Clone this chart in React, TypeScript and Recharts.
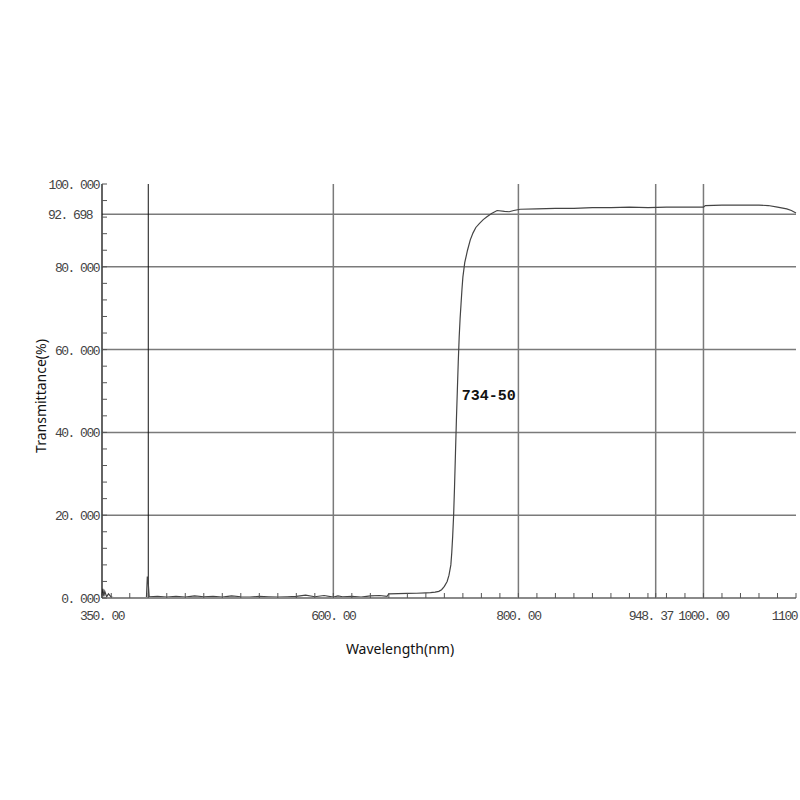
import React from "react";
import { LineChart, Line, XAxis, YAxis, ReferenceLine, ReferenceDot } from "recharts";

// measured curve (wavelength nm -> transmittance %)
const wavelength = [
  350, 351, 352, 353, 355, 357, 360, 365, 370, 380, 390, 398, 399, 400, 401, 410, 420, 430, 440, 450,
  460, 470, 480, 490, 500, 510, 520, 530, 540, 550, 560, 570, 580, 590, 600, 605, 610, 620, 630, 640,
  650, 658, 660, 670, 680, 690, 700, 705, 710, 714, 717, 720, 723, 725, 727, 728, 729, 730, 731, 732,
  733, 734, 735, 736, 737, 738, 739, 740, 742, 745, 748, 751, 754, 758, 762, 766, 771, 777, 785, 790,
  795, 802, 820, 840, 860, 880, 900, 920, 940, 960, 980, 1000, 1002, 1020, 1040, 1060,
  1070, 1080, 1090, 1095, 1100,
];
const transmittance = [
  0.6, 2.2, 0.4, 1.6, 0.3, 1.0, 0.2, 0, 0, 0, 0, 0, 5.2, 3.5, 0.3, 0.4, 0.2, 0.4, 0.2, 0.5,
  0.3, 0.4, 0.2, 0.5, 0.3, 0.2, 0.4, 0.3, 0.2, 0.3, 0.4, 0.7, 0.3, 0.6, 0.2, 0.5, 0.3, 0.4, 0.2, 0.5,
  0.6, 0.4, 1.0, 1.05, 1.1, 1.15, 1.25, 1.3, 1.4, 1.6, 2.0, 2.8, 4.0, 5.5, 8, 11, 15, 20, 27, 35,
  43, 50, 57, 63, 67.5, 71, 74.5, 77.5, 81, 84, 86.5, 88.2, 89.5, 90.5, 91.4, 92.1, 92.9, 93.6, 93.4, 93.3,
  93.6, 93.9, 94.0, 94.1, 94.1, 94.3, 94.3, 94.4, 94.3, 94.4, 94.4, 94.4, 94.8, 94.9, 94.9, 94.9,
  94.8, 94.4, 94.0, 93.6, 93.0,
];

const xLabelTicks = [350, 600, 800, 948.37, 1000, 1100];
const xLabelText = ["350. 00", "600. 00", "800. 00", "948. 37", "1000. 00", "1100"];
const xMinorTicks = [
  360, 380, 400, 420, 440, 460, 480, 500, 520, 540, 560, 580, 600, 620, 640, 660, 680, 700, 720,
  740, 760, 780, 800, 820, 840, 860, 880, 900, 920, 940, 960, 980, 1000, 1020, 1040, 1060, 1080,
];
const yLabelTicks = [0, 20, 40, 60, 80, 100];
const yLabelText = ["0. 000", "20. 000", "40. 000", "60. 000", "80. 000", "100. 000"];
const yMinorTicks = [4, 8, 12, 16, 24, 28, 32, 36, 44, 48, 52, 56, 64, 68, 72, 76, 84, 88, 92, 96];

const xGrid = [600, 800, 948.37, 1000];
const xDarkGrid = 400;
const yGrid = [20, 40, 60, 80];
const markLevel = 92.698;
const markText = "92. 698";
const curveName = "734-50";

const data = wavelength.map((w, i) => ({ w, t: transmittance[i] }));

const bottomTicks = Array.from(new Set([...xLabelTicks, ...xMinorTicks])).sort((a, b) => a - b);
const leftTicks = Array.from(new Set([...yLabelTicks, ...yMinorTicks])).sort((a, b) => a - b);

const tickFont = "'Liberation Mono', monospace";
const tickColor = "#444";
const tickStyle = { fontSize: 13, letterSpacing: -1.5, fontFamily: tickFont, fill: tickColor };

function BottomTick(props: any) {
  const { x, y, payload } = props;
  const i = xLabelTicks.indexOf(payload.value);
  let dx = 0;
  let anchor = "middle";
  if (payload.value === 948.37) dx = -5;
  if (payload.value === 1100) {
    anchor = "end";
    dx = 1;
  }
  return (
    <g>
      <line x1={x} x2={x} y1={y} y2={y - 5} stroke="#555" />
      {i >= 0 && (
        <text x={x + dx} y={y + 22} textAnchor={anchor} {...tickStyle}>
          {xLabelText[i]}
        </text>
      )}
    </g>
  );
}

function TopTick(props: any) {
  const { x, y } = props;
  return <line x1={x} x2={x} y1={y} y2={y + 5} stroke="#555" />;
}

function LeftTick(props: any) {
  const { x, y, payload } = props;
  const i = yLabelTicks.indexOf(payload.value);
  return (
    <g>
      <line x1={x} x2={x + 5} y1={y} y2={y} stroke="#555" />
      {i >= 0 && (
        <text x={x - 3} y={y + 5} textAnchor="end" {...tickStyle}>
          {yLabelText[i]}
        </text>
      )}
    </g>
  );
}

function RightTick(props: any) {
  const { x, y } = props;
  return <line x1={x} x2={x - 5} y1={y} y2={y} stroke="#555" />;
}

export default function App() {
  return (
    <div style={{ position: "absolute", left: 0, top: 0, width: 800, height: 800, background: "#fff" }}>
      <LineChart width={800} height={800} data={data} margin={{ top: 184, right: 4, bottom: 172, left: 42 }}>
        <XAxis
          dataKey="w"
          type="number"
          domain={[350, 1100]}
          ticks={bottomTicks}
          interval={0}
          tickSize={0}
          tickMargin={0}
          height={30}
          tick={BottomTick}
          axisLine={{ stroke: "#8a8a8a", strokeWidth: 2 }}
          label={{
            content: (p: any) => {
              const vb = p.viewBox;
              return (
                <text x={vb.x + vb.width / 2 - 49} y={vb.y + 56} textAnchor="middle" fontSize={14} fontFamily="'Noto Sans', sans-serif" fill="#111">
                  Wavelength(nm)
                </text>
              );
            },
          }}
        />
        <XAxis
          xAxisId="top"
          orientation="top"
          type="number"
          domain={[350, 1100]}
          ticks={xMinorTicks}
          interval={0}
          tickSize={0}
          tickMargin={0}
          height={0}
          tick={TopTick}
          axisLine={{ stroke: "#777", strokeWidth: 1.2 }}
        />
        <YAxis
          type="number"
          domain={[0, 100]}
          ticks={leftTicks}
          interval={0}
          tickSize={0}
          tickMargin={0}
          width={60}
          tick={LeftTick}
          axisLine={{ stroke: "#111", strokeWidth: 1.3 }}
          label={{
            content: (p: any) => {
              const vb = p.viewBox;
              const cx = vb.x - 2;
              const cy = 396;
              return (
                <text x={cx} y={cy} transform={`rotate(-90 ${cx} ${cy})`} textAnchor="middle" dominantBaseline="central" fontSize={14} fontFamily="'Noto Sans', sans-serif" fill="#111">
                  Transmittance(%)
                </text>
              );
            },
          }}
        />
        <YAxis
          yAxisId="right"
          orientation="right"
          type="number"
          domain={[0, 100]}
          ticks={leftTicks}
          interval={0}
          tickSize={0}
          tickMargin={0}
          width={0}
          tick={RightTick}
          axisLine={{ stroke: "#777", strokeWidth: 1.2 }}
        />
        {yGrid.map((v) => (
          <ReferenceLine key={"y" + v} y={v} stroke="#7a7a7a" strokeWidth={1.5} />
        ))}
        <ReferenceLine
          y={markLevel}
          stroke="#7a7a7a"
          strokeWidth={1.5}
          label={{ value: markText, position: "left", offset: 10, ...tickStyle }}
        />
        {xGrid.map((v) => (
          <ReferenceLine key={"x" + v} x={v} stroke="#7a7a7a" strokeWidth={1.5} />
        ))}
        <ReferenceLine x={xDarkGrid} stroke="#111" strokeWidth={1} />
        <Line
          type="linear"
          dataKey="t"
          stroke="#444"
          strokeWidth={1.2}
          dot={false}
          isAnimationActive={false}
        />
        <ReferenceDot
          x={768}
          y={49}
          r={0}
          fill="none"
          stroke="none"
          label={{ value: curveName, position: "center", fontSize: 15, fontWeight: "bold", fontFamily: tickFont, fill: "#111" }}
        />
      </LineChart>
    </div>
  );
}
